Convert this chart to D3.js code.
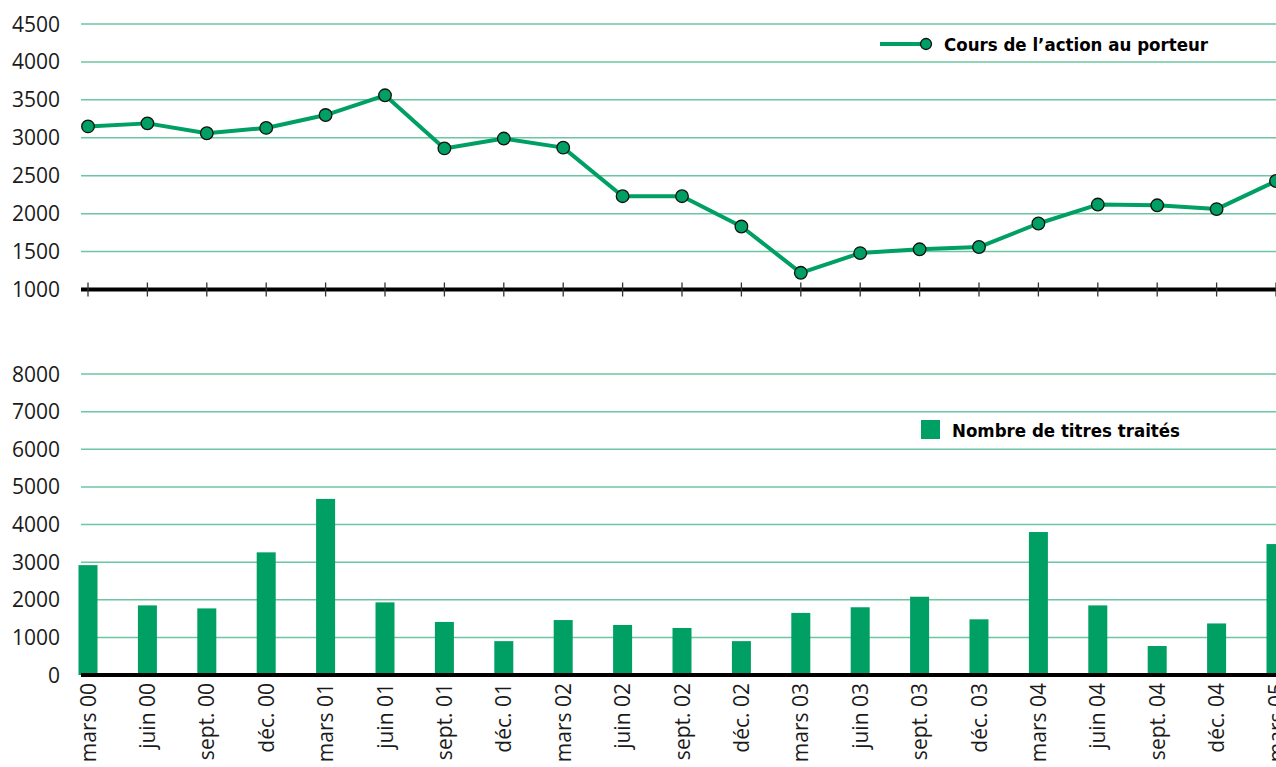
<!DOCTYPE html>
<html>
<head>
<meta charset="utf-8">
<script src="https://cdn.jsdelivr.net/npm/d3@7"></script>
<style>
  body { margin: 0; background: #fff; }
  svg text { font-family: "Open Sans", sans-serif; fill: #1a1a1a; }
</style>
</head>
<body>
<div id="chart"></div>
<script>
// quarters (x axis)
var periods = ["mars 00", "juin 00", "sept. 00", "déc. 00", "mars 01", "juin 01", "sept. 01", "déc. 01",
               "mars 02", "juin 02", "sept. 02", "déc. 02", "mars 03", "juin 03", "sept. 03", "déc. 03",
               "mars 04", "juin 04", "sept. 04", "déc. 04", "mars 05"];
// share price
var price = [3150, 3190, 3060, 3130, 3300, 3560, 2860, 2990, 2870, 2230, 2230, 1830, 1220, 1480, 1530, 1560,
             1870, 2120, 2110, 2060, 2430];
// number of shares traded
var volume = [2920, 1850, 1770, 3260, 4680, 1930, 1410, 900, 1460, 1330, 1250, 900, 1650, 1800, 2080, 1480,
              3800, 1850, 770, 1370, 3480];
var priceTicks = [1000, 1500, 2000, 2500, 3000, 3500, 4000, 4500];
var volumeTicks = [0, 1000, 2000, 3000, 4000, 5000, 6000, 7000, 8000];

var W = 1276, H = 767;
var green = '#009f64';
var gridColor = '#6cc6a1';
var legendFont = '"DejaVu Sans Condensed", "Liberation Sans Narrow", sans-serif';

var svg = d3.select('#chart').append('svg')
    .attr('width', W).attr('height', H);

var x = d3.scalePoint().domain(periods).range([88, 1276]);
var plotLeft = 81, plotRight = W;

// ---------- top: share price ----------
var yTop = d3.scaleLinear().domain([1000, 4500]).range([289.5, 24]);

var gTop = svg.append('g');
gTop.selectAll('line.grid').data(priceTicks.slice(1)).enter().append('line')
    .attr('x1', plotLeft).attr('x2', plotRight)
    .attr('y1', function (d) { return yTop(d); })
    .attr('y2', function (d) { return yTop(d); })
    .attr('stroke', gridColor).attr('stroke-width', 1.5);

gTop.selectAll('text.ylab').data(priceTicks).enter().append('text')
    .attr('x', 60).attr('y', function (d) { return yTop(d); })
    .attr('dy', '0.36em').attr('text-anchor', 'end')
    .style('font-size', '21px')
    .text(function (d) { return d; });

// axis with ticks
gTop.append('line')
    .attr('x1', plotLeft).attr('x2', plotRight)
    .attr('y1', yTop(1000)).attr('y2', yTop(1000))
    .attr('stroke', '#000').attr('stroke-width', 4);
gTop.selectAll('line.tick').data(periods).enter().append('line')
    .attr('x1', function (d) { return x(d); }).attr('x2', function (d) { return x(d); })
    .attr('y1', yTop(1000) - 7).attr('y2', yTop(1000) + 7)
    .attr('stroke', '#333').attr('stroke-width', 1.3);

var line = d3.line()
    .x(function (d, i) { return x(periods[i]); })
    .y(function (d) { return yTop(d); });

gTop.append('path').datum(price)
    .attr('d', line)
    .attr('fill', 'none').attr('stroke', green)
    .attr('stroke-width', 4).attr('stroke-linejoin', 'round');

gTop.selectAll('circle.pt').data(price).enter().append('circle')
    .attr('cx', function (d, i) { return x(periods[i]); })
    .attr('cy', function (d) { return yTop(d); })
    .attr('r', 6.3)
    .attr('fill', green).attr('stroke', '#111').attr('stroke-width', 1.3);

// legend
gTop.append('line')
    .attr('x1', 880).attr('x2', 924).attr('y1', 44).attr('y2', 44)
    .attr('stroke', green).attr('stroke-width', 4);
gTop.append('circle')
    .attr('cx', 926).attr('cy', 44).attr('r', 5.5)
    .attr('fill', green).attr('stroke', '#111').attr('stroke-width', 1.3);
gTop.append('text')
    .attr('x', 944).attr('y', 51)
    .style('font-family', legendFont)
    .style('font-weight', 'bold').style('font-size', '18.5px').style('fill', '#000')
    .text('Cours de l’action au porteur');

// ---------- bottom: volume ----------
var yBot = d3.scaleLinear().domain([0, 8000]).range([675, 374]);

var gBot = svg.append('g');
gBot.selectAll('line.grid').data(volumeTicks.slice(1)).enter().append('line')
    .attr('x1', plotLeft).attr('x2', plotRight)
    .attr('y1', function (d) { return yBot(d); })
    .attr('y2', function (d) { return yBot(d); })
    .attr('stroke', gridColor).attr('stroke-width', 1.5);

gBot.selectAll('text.ylab').data(volumeTicks).enter().append('text')
    .attr('x', 60).attr('y', function (d) { return yBot(d); })
    .attr('dy', '0.36em').attr('text-anchor', 'end')
    .style('font-size', '21px')
    .text(function (d) { return d; });

var barW = 19;
gBot.selectAll('rect.bar').data(volume).enter().append('rect')
    .attr('x', function (d, i) { return x(periods[i]) - barW / 2; })
    .attr('y', function (d) { return yBot(d); })
    .attr('width', barW)
    .attr('height', function (d) { return yBot(0) - yBot(d); })
    .attr('fill', green);

gBot.append('line')
    .attr('x1', plotLeft).attr('x2', plotRight)
    .attr('y1', yBot(0)).attr('y2', yBot(0))
    .attr('stroke', '#000').attr('stroke-width', 4);

// rotated x labels
gBot.selectAll('text.xlab').data(periods).enter().append('text')
    .attr('transform', function (d) { return 'translate(' + x(d) + ',683) rotate(-90)'; })
    .attr('text-anchor', 'end').attr('dy', '0.36em')
    .style('font-size', '21px')
    .text(function (d) { return d; });

// legend
gBot.append('rect')
    .attr('x', 921).attr('y', 420).attr('width', 19).attr('height', 19)
    .attr('fill', green);
gBot.append('text')
    .attr('x', 952).attr('y', 437)
    .style('font-family', legendFont)
    .style('font-weight', 'bold').style('font-size', '18.5px').style('fill', '#000')
    .text('Nombre de titres traités');
</script>
</body>
</html>
